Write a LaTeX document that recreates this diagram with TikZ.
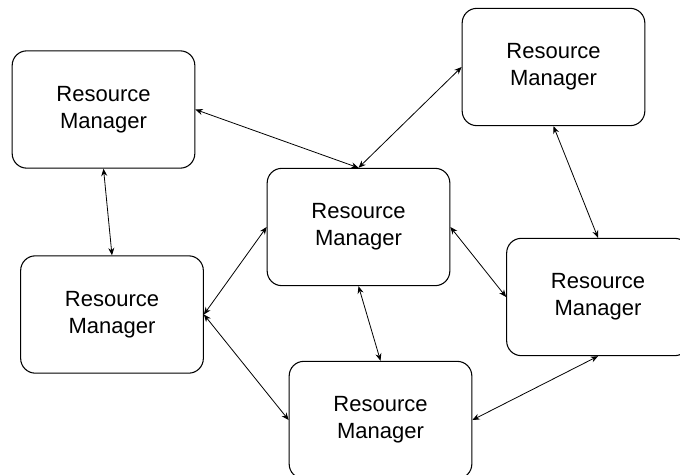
\documentclass[tikz,border=0pt]{standalone}
\usepackage{fontspec}
\setmainfont{Liberation Sans}
\usetikzlibrary{arrows.meta}

\begin{document}
\begin{tikzpicture}[x=0.75pt, y=-0.75pt,
    rm/.style={draw, line width=0.8pt, rounded corners=11pt, minimum width=137pt, minimum height=88pt,
        align=center, font=\fontsize{16.5}{20.5}\selectfont},
    link/.style={{Stealth[length=5.5pt,width=4.5pt]}-{Stealth[length=5.5pt,width=4.5pt]}, line width=0.6pt}]
    \useasboundingbox (0,0) rectangle (680,474);

    \node[rm] (tl) at (103.5, 109.5) {Resource\\Manager};
    \node[rm] (tr) at (553.5, 67) {Resource\\Manager};
    \node[rm] (mid) at (358.5, 227) {Resource\\Manager};
    \node[rm] (ml) at (112, 314.5) {Resource\\Manager};
    \node[rm] (mr) at (598, 297) {Resource\\Manager};
    \node[rm] (bot) at (380.5, 420) {Resource\\Manager};

    \draw[link] (tl.east) -- (mid.north);
    \draw[link] (tr.west) -- (mid.north);
    \draw[link] (tl.south) -- (ml.north);
    \draw[link] (mid.west) -- (ml.east);
    \draw[link] (ml.east) -- (bot.west);
    \draw[link] (mid.south) -- (bot.north);
    \draw[link] (mid.east) -- (mr.west);
    \draw[link] (tr.south) -- (mr.north);
    \draw[link] (bot.east) -- (mr.south);
\end{tikzpicture}
\end{document}
